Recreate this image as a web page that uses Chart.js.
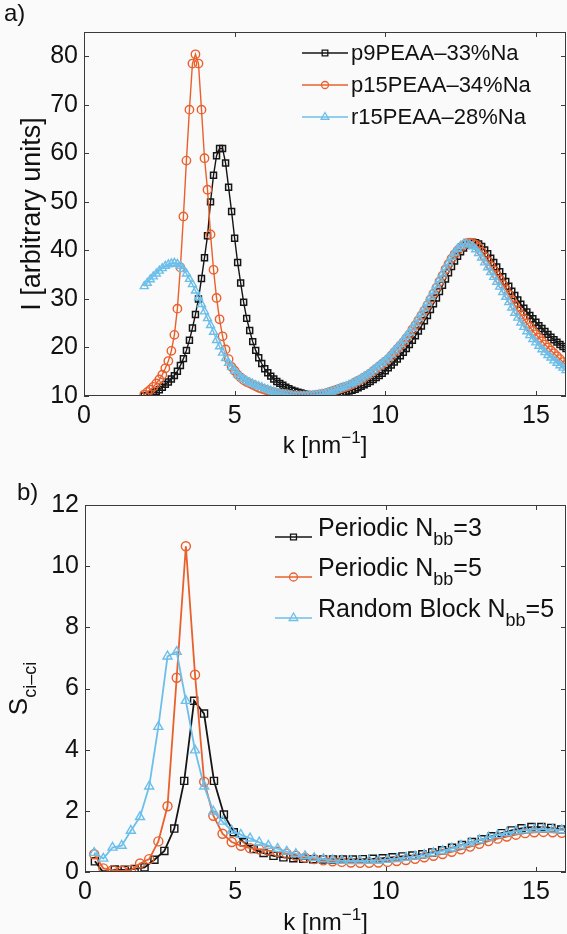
<!DOCTYPE html>
<html>
<head>
<meta charset="utf-8">
<script src="https://cdn.jsdelivr.net/npm/chart.js@4.4.1/dist/chart.umd.min.js"></script>
<style>
  html, body { margin: 0; padding: 0; background: #fafafa; }
  canvas { display: block; }
</style>
</head>
<body>
<canvas id="chartA" width="567" height="467"></canvas>
<canvas id="chartB" width="567" height="467"></canvas>
<script>
// ---- panel a) : scattering intensity ----
const kTop = [
  2.0,2.1,2.2,2.3,2.4,2.5,2.6,2.7,2.8,2.9,
  3.0,3.1,3.2,3.3,3.4,3.5,3.6,3.7,3.8,3.9,
  4.0,4.1,4.2,4.3,4.4,4.5,4.6,4.7,4.8,4.9,
  5.0,5.1,5.2,5.3,5.4,5.5,5.6,5.7,5.8,5.9,
  6.0,6.1,6.2,6.3,6.4,6.5,6.6,6.7,6.8,6.9,
  7.0,7.1,7.2,7.3,7.4,7.5,7.6,7.7,7.8,7.9,
  8.0,8.1,8.2,8.3,8.4,8.5,8.6,8.7,8.8,8.9,
  9.0,9.1,9.2,9.3,9.4,9.5,9.6,9.7,9.8,9.9,
  10.0,10.1,10.2,10.3,10.4,10.5,10.6,10.7,10.8,10.9,
  11.0,11.1,11.2,11.3,11.4,11.5,11.6,11.7,11.8,11.9,
  12.0,12.1,12.2,12.3,12.4,12.5,12.6,12.7,12.8,12.9,
  13.0,13.1,13.2,13.3,13.4,13.5,13.6,13.7,13.8,13.9,
  14.0,14.1,14.2,14.3,14.4,14.5,14.6,14.7,14.8,14.9,
  15.0,15.1,15.2,15.3,15.4,15.5,15.6,15.7,15.8,15.9,
  16.0
];
const p9 = [
  10.0,10.1,10.3,10.6,10.9,11.3,11.8,12.4,12.9,13.5,
  14.2,15.1,16.3,17.7,19.4,21.5,24.0,26.8,30.0,34.2,
  38.5,43.0,50.0,55.5,59.5,61.0,61.0,58.0,53.0,48.0,
  42.5,37.5,33.3,29.3,26.0,23.5,21.2,19.4,17.9,16.7,
  15.6,14.8,14.1,13.5,13.0,12.6,12.2,11.8,11.5,11.2,
  11.0,10.8,10.6,10.4,10.3,10.2,10.1,10.0,10.0,10.0,
  10.0,10.1,10.1,10.2,10.3,10.4,10.6,10.8,11.0,11.2,
  11.4,11.7,12.0,12.3,12.6,13.0,13.4,13.8,14.2,14.7,
  15.2,15.8,16.4,17.0,17.6,18.3,19.0,19.8,20.6,21.5,
  22.4,23.4,24.4,25.5,26.6,27.8,29.0,30.2,31.5,32.8,
  34.1,35.4,36.7,37.8,38.8,39.7,40.5,41.1,41.5,41.7,
  41.6,41.3,40.8,40.1,39.3,38.4,37.5,36.6,35.6,34.6,
  33.6,32.6,31.6,30.7,29.8,28.9,28.1,27.3,26.6,25.9,
  25.2,24.5,23.9,23.3,22.7,22.1,21.6,21.1,20.6,20.2,
  19.8
];
const p15 = [
  10.3,10.8,11.3,11.9,12.6,13.4,14.4,15.7,17.2,19.3,
  22.6,28.0,36.5,47.0,58.5,69.0,78.5,80.4,78.5,69.0,
  59.0,52.5,43.3,36.0,30.2,25.8,22.3,19.6,17.6,16.0,
  15.2,14.4,13.8,13.3,12.9,12.6,12.3,12.0,11.7,11.5,
  11.3,11.1,10.9,10.8,10.6,10.5,10.4,10.3,10.2,10.1,
  10.1,10.0,10.0,10.0,10.0,10.0,10.1,10.2,10.3,10.4,
  10.5,10.7,10.9,11.1,11.3,11.5,11.7,11.9,12.1,12.4,
  12.8,13.1,13.4,13.8,14.2,14.6,15.1,15.6,16.1,16.6,
  17.1,17.6,18.3,19.0,19.7,20.4,21.1,21.9,22.7,23.7,
  24.6,25.6,26.6,27.6,28.7,29.9,31.1,32.3,33.6,34.8,
  36.1,37.2,38.3,39.2,40.0,40.6,41.1,41.5,41.6,41.5,
  41.2,40.6,39.7,38.7,37.8,36.8,35.9,34.9,34.0,33.0,
  32.0,30.9,29.8,28.7,27.7,26.8,25.9,25.0,24.2,23.4,
  22.7,22.0,21.3,20.6,20.0,19.4,18.8,18.2,17.6,17.0,
  16.4
];
const r15 = [
  32.6,33.3,34.0,34.6,35.2,35.8,36.3,36.8,37.1,37.3,
  37.4,37.2,36.8,36.1,35.2,34.1,33.0,31.7,30.3,28.9,
  27.4,26.0,24.6,23.2,21.5,20.2,18.9,17.8,16.8,16.0,
  15.2,14.5,13.9,13.5,13.1,12.8,12.5,12.2,12.0,11.8,
  11.5,11.3,11.1,10.9,10.7,10.5,10.4,10.3,10.2,10.1,
  10.0,10.0,10.0,10.0,10.0,10.1,10.1,10.2,10.3,10.4,
  10.5,10.7,10.9,11.1,11.3,11.6,11.8,12.0,12.3,12.6,
  12.9,13.2,13.6,14.0,14.4,14.8,15.3,15.8,16.3,16.8,
  17.3,17.9,18.6,19.3,20.0,20.7,21.5,22.3,23.1,24.0,
  25.0,26.0,27.0,28.1,29.2,30.4,31.6,32.8,34.0,35.2,
  36.4,37.5,38.6,39.5,40.3,40.9,41.3,41.4,41.2,40.8,
  40.2,39.4,38.5,37.5,36.5,35.5,34.5,33.5,32.5,31.4,
  30.4,29.3,28.2,27.1,26.1,25.1,24.2,23.3,22.5,21.7,
  21.0,20.3,19.6,19.0,18.4,17.9,17.3,16.8,16.3,15.8,
  15.3
];
const namesTop = ['p9PEAA–33%Na', 'p15PEAA–34%Na', 'r15PEAA–28%Na'];
const xTicks = [0, 5, 10, 15];
const yTicksTop = [10, 20, 30, 40, 50, 60, 70, 80];

// ---- panel b) : counterion structure factor ----
const kNbb3 = [
  0.33,0.66,0.99,1.32,1.65,1.98,2.31,2.64,2.97,3.30,
  3.63,3.96,4.29,4.62,4.95,5.28,5.61,5.94,6.27,6.60,
  6.93,7.26,7.59,7.92,8.25,8.58,8.91,9.24,9.57,9.90,
  10.23,10.56,10.89,11.22,11.55,11.88,12.21,12.54,12.87,13.20,
  13.53,13.86,14.19,14.52,14.85,15.18,15.51,15.84,16.17
];
const sPer3 = [
  0.35,-0.08,0.08,0.07,0.10,0.15,0.40,0.69,1.42,2.98,
  5.60,5.18,2.98,1.88,1.30,0.97,0.75,0.62,0.53,0.48,
  0.45,0.43,0.42,0.41,0.41,0.41,0.41,0.42,0.43,0.45,
  0.48,0.51,0.54,0.58,0.64,0.71,0.79,0.88,0.98,1.07,
  1.17,1.27,1.36,1.43,1.47,1.47,1.44,1.39,1.33
];
const kNbb5 = [
  0.305,0.61,0.915,1.22,1.525,1.83,2.135,2.44,2.745,3.05,
  3.355,3.66,3.965,4.27,4.575,4.88,5.185,5.49,5.795,6.1,
  6.405,6.71,7.015,7.32,7.625,7.93,8.235,8.54,8.845,9.15,
  9.455,9.76,10.065,10.37,10.675,10.98,11.285,11.59,11.895,12.2,
  12.505,12.81,13.115,13.42,13.725,14.03,14.335,14.64,14.945,15.25,
  15.555,15.86,16.165
];
const sPer5 = [
  0.58,0.12,0.06,0.04,0.06,0.28,0.42,1.00,2.15,6.35,
  10.65,6.45,2.95,1.84,1.25,0.98,0.86,0.78,0.74,0.70,
  0.66,0.60,0.53,0.47,0.42,0.38,0.35,0.33,0.31,0.30,
  0.30,0.31,0.33,0.36,0.39,0.43,0.48,0.53,0.59,0.66,
  0.74,0.83,0.92,1.01,1.09,1.16,1.22,1.27,1.30,1.31,
  1.30,1.28,1.25
];
const sRand5 = [
  0.63,0.44,0.80,0.86,1.35,1.80,2.80,4.75,7.05,7.20,
  5.60,3.98,2.80,1.98,1.65,1.35,1.22,1.10,0.97,0.86,
  0.76,0.67,0.59,0.52,0.46,0.42,0.39,0.37,0.36,0.36,
  0.37,0.38,0.40,0.43,0.47,0.51,0.56,0.62,0.69,0.77,
  0.86,0.95,1.04,1.13,1.21,1.28,1.33,1.37,1.39,1.40,
  1.39,1.37,1.34
];
const namesBottom = ['Periodic N_{bb}=3', 'Periodic N_{bb}=5', 'Random Block N_{bb}=5'];
const yTicksBottom = [0, 2, 4, 6, 8, 10, 12];

const FAMILY = '"Liberation Sans", Arial, Helvetica, sans-serif';
const BLACK = '#151515', ORANGE = '#e9602c', BLUE = '#6cbfea';

function series(label, xs, ys, color, style, r, lw, pbw, order) {
  return {
    label: label,
    data: xs.map((x, i) => ({ x: x, y: ys[i] })),
    borderColor: color,
    backgroundColor: color,
    borderWidth: lw,
    pointStyle: style,
    pointRadius: r,
    pointHoverRadius: r,
    pointBorderWidth: pbw,
    pointBorderColor: color,
    pointBackgroundColor: 'rgba(0,0,0,0)',
    tension: 0,
    order: order
  };
}

// text with _{sub} and ^{sup} parts
function drawRich(ctx, str, x, y, size, align) {
  const parts = [];
  const re = /([_^])\{([^}]*)\}/g;
  let last = 0, m;
  while ((m = re.exec(str))) {
    if (m.index > last) parts.push({ t: str.slice(last, m.index), k: '' });
    parts.push({ t: m[2], k: m[1] });
    last = re.lastIndex;
  }
  if (last < str.length) parts.push({ t: str.slice(last), k: '' });
  const fontOf = p => (p.k ? Math.round(size * 0.7) : size) + 'px ' + FAMILY;
  let w = 0;
  parts.forEach(p => { ctx.font = fontOf(p); p.w = ctx.measureText(p.t).width; w += p.w; });
  let cx = align === 'center' ? x - w / 2 : x;
  ctx.textAlign = 'left';
  parts.forEach(p => {
    ctx.font = fontOf(p);
    const dy = p.k === '_' ? size * 0.36 : (p.k === '^' ? -size * 0.4 : 0);
    ctx.fillText(p.t, cx, y + dy);
    cx += p.w;
  });
  return w;
}

function marker(ctx, style, x, y, r) {
  ctx.beginPath();
  if (style === 'rect') {
    const s = r * Math.SQRT1_2;
    ctx.rect(x - s, y - s, 2 * s, 2 * s);
  } else if (style === 'circle') {
    ctx.arc(x, y, r, 0, Math.PI * 2);
  } else {
    const a = 2 * Math.PI / 3;
    ctx.moveTo(x, y - r);
    ctx.lineTo(x + r * Math.sin(a), y - r * Math.cos(a));
    ctx.lineTo(x + r * Math.sin(2 * a), y - r * Math.cos(2 * a));
    ctx.closePath();
  }
  ctx.stroke();
}

// matlab style box with inward ticks, legend, labels
function decor(spec) {
  return {
    id: 'decor',
    afterDraw(chart) {
      const { ctx, chartArea: a, scales } = chart;
      ctx.save();
      ctx.strokeStyle = '#3a3a3a';
      ctx.lineWidth = 1;
      ctx.strokeRect(a.left + 0.5, a.top + 0.5, a.right - a.left - 1, a.bottom - a.top - 1);
      ctx.beginPath();
      scales.x.ticks.forEach(t => {
        const px = Math.round(scales.x.getPixelForValue(t.value)) + 0.5;
        ctx.moveTo(px, a.bottom); ctx.lineTo(px, a.bottom - 5);
        ctx.moveTo(px, a.top); ctx.lineTo(px, a.top + 5);
      });
      scales.y.ticks.forEach(t => {
        const py = Math.round(scales.y.getPixelForValue(t.value)) + 0.5;
        ctx.moveTo(a.left, py); ctx.lineTo(a.left + 5, py);
        ctx.moveTo(a.right, py); ctx.lineTo(a.right - 5, py);
      });
      ctx.stroke();

      ctx.fillStyle = '#111';
      ctx.textBaseline = 'alphabetic';
      drawRich(ctx, spec.panel, spec.panelX, spec.panelY, 24, 'left');
      drawRich(ctx, 'k [nm^{−1}]', (a.left + a.right) / 2, spec.xTitleY, 24, 'center');
      if (spec.yTitle) {
        ctx.save();
        ctx.translate(spec.yTitleX, (a.top + a.bottom) / 2);
        ctx.rotate(-Math.PI / 2);
        drawRich(ctx, spec.yTitle, 0, 0, 26, 'center');
        ctx.restore();
      }

      const L = spec.legend;
      chart.data.datasets.forEach((ds, i) => {
        const y = L.rows[i];
        ctx.strokeStyle = ds.borderColor;
        ctx.lineWidth = 1.5;
        ctx.beginPath();
        ctx.moveTo(L.x0, y); ctx.lineTo(L.x1, y);
        ctx.stroke();
        ctx.lineWidth = 1.3;
        marker(ctx, ds.pointStyle, (L.x0 + L.x1) / 2, y, L.mr[i]);
        ctx.fillStyle = '#111';
        ctx.textBaseline = L.baseline;
        drawRich(ctx, ds.label, L.tx, y + L.dy, L.size, 'left');
      });
      ctx.restore();
    }
  };
}

function options(o) {
  const tickFont = { family: FAMILY, size: 25 };
  return {
    responsive: false,
    animation: false,
    devicePixelRatio: 1,
    layout: { autoPadding: false, padding: { top: o.top, right: 1, left: 0, bottom: 0 } },
    plugins: { legend: { display: false }, tooltip: { enabled: false } },
    scales: {
      x: {
        type: 'linear', min: 0, max: 16,
        afterBuildTicks: s => { s.ticks = xTicks.map(v => ({ value: v })); },
        afterFit: s => { s.height = o.xh; },
        grid: { display: false, drawTicks: false },
        border: { display: false },
        ticks: { padding: 5, color: '#111', font: tickFont, maxRotation: 0, autoSkip: false }
      },
      y: {
        type: 'linear', min: o.ymin, max: o.ymax,
        afterBuildTicks: s => { s.ticks = o.yTicks.map(v => ({ value: v })); },
        afterFit: s => { s.width = o.yw; },
        grid: { display: false, drawTicks: false },
        border: { display: false },
        ticks: { padding: 6, color: '#111', font: tickFont, autoSkip: false },
        title: o.yTitle ? {
          display: true, text: o.yTitle, color: '#111',
          font: { family: FAMILY, size: 27 }, padding: { top: 16, bottom: 0 }
        } : { display: false }
      }
    }
  };
}

new Chart(document.getElementById('chartA'), {
  type: 'line',
  data: {
    datasets: [
      series(namesTop[0], kTop, p9, BLACK, 'rect', 4.2, 1.4, 1.5, 3),
      series(namesTop[1], kTop, p15, ORANGE, 'circle', 4.2, 1.4, 1.4, 2),
      series(namesTop[2], kTop, r15, BLUE, 'triangle', 4.6, 1.4, 1.4, 1)
    ]
  },
  options: options({ top: 32, xh: 71, yw: 84, ymin: 10, ymax: 85, yTicks: yTicksTop, yTitle: 'I [arbitrary units]' }),
  plugins: [decor({
    panel: 'a)', panelX: 4, panelY: 21, xTitleY: 453,
    legend: { rows: [53, 85, 117], x0: 302, x1: 348, tx: 351, dy: 1, size: 22, baseline: 'middle', mr: [4, 3.5, 4.5] }
  })]
});

new Chart(document.getElementById('chartB'), {
  type: 'line',
  data: {
    datasets: [
      series(namesBottom[0], kNbb3, sPer3, BLACK, 'rect', 5, 1.8, 1.4, 3),
      series(namesBottom[1], kNbb5, sPer5, ORANGE, 'circle', 4.5, 1.8, 1.4, 2),
      series(namesBottom[2], kNbb5, sRand5, BLUE, 'triangle', 5.2, 1.8, 1.4, 1)
    ]
  },
  options: options({ top: 38, xh: 62, yw: 85, ymin: 0, ymax: 12, yTicks: yTicksBottom }),
  plugins: [decor({
    panel: 'b)', panelX: 17, panelY: 33, xTitleY: 463,
    yTitle: 'S_{ci–ci}', yTitleX: 27,
    legend: { rows: [70, 110, 151], x0: 275, x1: 312, tx: 318, dy: -1, size: 25, baseline: 'alphabetic', mr: [4.2, 4, 5] }
  })]
});
</script>
</body>
</html>
